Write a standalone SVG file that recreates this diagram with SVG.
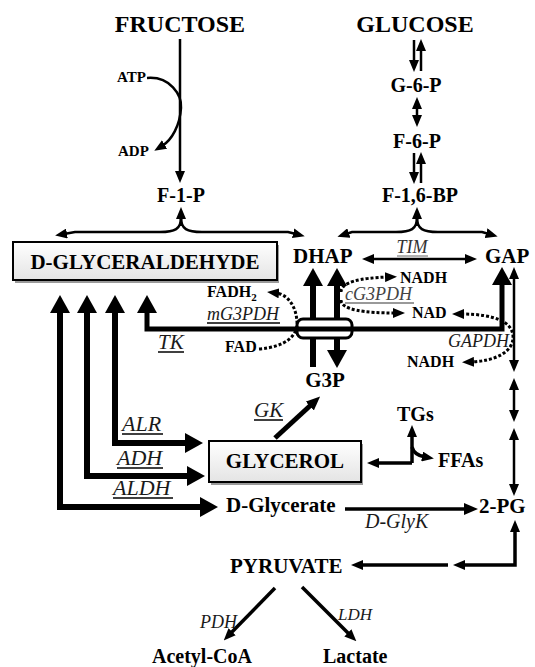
<svg xmlns="http://www.w3.org/2000/svg" width="535" height="667" viewBox="0 0 535 667">
<defs>
<marker id="th" markerUnits="userSpaceOnUse" markerWidth="12" markerHeight="10" refX="3" refY="5" orient="auto-start-reverse"><path d="M0,0 L12,5 L0,10 z" fill="#000"/></marker>
<marker id="md" markerUnits="userSpaceOnUse" markerWidth="14" markerHeight="12" refX="3" refY="6" orient="auto-start-reverse"><path d="M0,0 L14,6 L0,12 z" fill="#000"/></marker>
<marker id="tk" markerUnits="userSpaceOnUse" markerWidth="18" markerHeight="20" refX="3" refY="10" orient="auto-start-reverse"><path d="M0,0 L18,10 L0,20 z" fill="#000"/></marker>
<linearGradient id="bg" x1="0" y1="0" x2="0" y2="1"><stop offset="0" stop-color="#ffffff"/><stop offset="1" stop-color="#e4e4e4"/></linearGradient>
</defs>
<style>
text{font-family:'Liberation Serif','DejaVu Serif',serif}
.b{font-weight:bold;fill:#000}
.i{font-style:italic;fill:#1a1a1a}
.thin{fill:none;stroke:#000;stroke-width:2.5}
.med{fill:none;stroke:#000;stroke-width:3.5}
.thick{fill:none;stroke:#000;stroke-width:6;stroke-linejoin:miter}
.dot{fill:none;stroke:#000;stroke-width:3;stroke-dasharray:3 2}
.ul{stroke:#000;stroke-width:1.5}
.box{fill:url(#bg);stroke:#000;stroke-width:2}
.shadow{fill:#9a9a9a}
</style>
<rect width="535" height="667" fill="#fff"/>

<g id="connectors">
  <path class="thin" d="M180,39 V174" marker-end="url(#th)"/>
  <path class="thin" d="M147,78 C170,76 182,95 181,108 C180,125 172,140 162,146" marker-end="url(#th)"/>
  <path class="thin" d="M414,40 V63" marker-end="url(#th)"/>
  <path class="thin" d="M421,71 V48" marker-end="url(#th)"/>
  <path class="thin" d="M417,106 V118" marker-start="url(#th)" marker-end="url(#th)"/>
  <path class="thin" d="M414,153 V175" marker-end="url(#th)"/>
  <path class="thin" d="M421,183 V161" marker-end="url(#th)"/>
  <path class="thin" d="M181,226 V216" marker-end="url(#th)"/>
  <path class="thin" d="M181,218 C181,229 175,232 160,232 L75,232 L64,234" marker-end="url(#th)"/>
  <path class="thin" d="M181,218 C181,229 187,232 202,232 L288,232 L296,234" marker-end="url(#th)"/>
  <path class="thin" d="M417,226 V216" marker-end="url(#th)"/>
  <path class="thin" d="M417,218 C417,229 411,232 396,232 L352,232 L346,234" marker-end="url(#th)"/>
  <path class="thin" d="M417,218 C417,229 423,232 438,232 L482,232 L489,234" marker-end="url(#th)"/>
  <path class="thin" d="M371,259 H468" marker-start="url(#th)" marker-end="url(#th)"/>
  <path class="thick" d="M313,367 V283" marker-end="url(#tk)"/>
  <path class="thick" d="M337,283 V353" marker-start="url(#tk)" marker-end="url(#tk)"/>
  <rect x="297" y="319" width="55" height="19" rx="6" fill="#fff" stroke="#000" stroke-width="3"/>
  <path class="thick" style="stroke-width:5" d="M147,310 V329 H502 V282" marker-start="url(#tk)" marker-end="url(#tk)"/>
  <path class="thick" d="M115,310 V443 H188" marker-start="url(#tk)" marker-end="url(#tk)"/>
  <path class="thick" d="M87,310 V476 H190" marker-start="url(#tk)" marker-end="url(#tk)"/>
  <path class="thick" d="M60,310 V507 H203" marker-start="url(#tk)" marker-end="url(#tk)"/>
  <path class="dot" d="M259,349 C285,347 298,336 297,322 C296,304 286,294 276,293" marker-end="url(#th)"/>
  <path class="dot" d="M341,292 C341,282 360,278 388,277" marker-end="url(#th)"/>
  <path class="dot" d="M341,300 C341,310 365,313 396,313" marker-end="url(#th)"/>
  <path class="dot" d="M461,314 C495,314 512,322 513,336 C514,352 495,361 471,362" marker-start="url(#th)" marker-end="url(#th)"/>
  <path class="thin" d="M514,276 V363" marker-start="url(#th)" marker-end="url(#th)"/>
  <path class="thin" d="M514,387 V413" marker-start="url(#th)" marker-end="url(#th)"/>
  <path class="thin" d="M514,437 V487" marker-start="url(#th)" marker-end="url(#th)"/>
  <path class="thick" style="stroke-width:5" d="M275,438 L312,404" marker-end="url(#md)"/>
  <path class="med" d="M345,509 H467" marker-end="url(#md)"/>
  <path class="med" d="M412,463 V434" marker-end="url(#th)"/>
  <path class="med" d="M412,463 H376" marker-end="url(#th)"/>
  <path class="med" d="M412,447 Q414,455 425,457" marker-end="url(#th)"/>
  <path class="med" d="M515,529 V565 H462" marker-start="url(#th)" marker-end="url(#th)"/>
  <path class="med" d="M448,565 H360" marker-end="url(#th)"/>
  <path class="med" d="M275,588 L230,634" marker-end="url(#th)"/>
  <path class="med" d="M302,587 L350,635" marker-end="url(#th)"/>
</g>

<g id="fructose"><text class="b" x="180" y="32" font-size="24" text-anchor="middle">FRUCTOSE</text></g>
<g id="glucose"><text class="b" x="415" y="32" font-size="24" text-anchor="middle">GLUCOSE</text></g>
<g id="atp"><text class="b" x="117" y="82" font-size="15">ATP</text></g>
<g id="adp"><text class="b" x="118" y="156" font-size="15">ADP</text></g>
<g id="f1p"><text class="b" x="181" y="202" font-size="20" text-anchor="middle">F-1-P</text></g>
<g id="g6p"><text class="b" x="416" y="92" font-size="20" text-anchor="middle">G-6-P</text></g>
<g id="f6p"><text class="b" x="417" y="148" font-size="20" text-anchor="middle">F-6-P</text></g>
<g id="f16bp"><text class="b" x="420" y="202" font-size="20" text-anchor="middle">F-1,6-BP</text></g>
<g id="dglyceraldehyde">
  <rect class="shadow" x="15" y="245" width="264" height="38"/>
  <rect class="box" x="13" y="242" width="264" height="38"/>
  <text class="b" x="145" y="269" font-size="21" text-anchor="middle">D-GLYCERALDEHYDE</text>
</g>
<g id="dhap"><text class="b" x="293" y="263" font-size="21">DHAP</text></g>
<g id="gap"><text class="b" x="485" y="263" font-size="21">GAP</text></g>
<g id="tim"><text class="i" x="412" y="253" font-size="18" text-anchor="middle" style="fill:#333">TIM</text><line class="ul" x1="397" y1="256" x2="428" y2="256" style="stroke:#666;stroke-width:1"/></g>
<g id="nadh1"><text class="b" x="400" y="283" font-size="16">NADH</text></g>
<g id="cg3pdh"><text class="i" x="345" y="300" font-size="18" style="fill:#444">cG3PDH</text><line class="ul" x1="345" y1="303" x2="414" y2="303" style="stroke:#777"/></g>
<g id="nad1"><text class="b" x="412" y="318" font-size="16">NAD</text></g>
<g id="gapdh"><text class="i" x="448" y="347" font-size="18">GAPDH</text></g>
<g id="nadh2"><text class="b" x="407" y="367" font-size="16">NADH</text></g>
<g id="fadh2"><text class="b" x="207" y="297" font-size="16">FADH<tspan font-size="11" dy="4">2</tspan></text></g>
<g id="mg3pdh"><text class="i" x="207" y="320" font-size="18">mG3PDH</text><line class="ul" x1="207" y1="323" x2="280" y2="323"/></g>
<g id="tk"><text class="i" x="158" y="349" font-size="21">TK</text><line class="ul" x1="158" y1="352" x2="184" y2="352"/></g>
<g id="fad"><text class="b" x="225" y="352" font-size="16">FAD</text></g>
<g id="g3p"><text class="b" x="325" y="387" font-size="21" text-anchor="middle">G3P</text></g>
<g id="gk"><text class="i" x="254" y="417" font-size="21">GK</text><line class="ul" x1="254" y1="420" x2="283" y2="420"/></g>
<g id="tgs"><text class="b" x="397" y="421" font-size="20">TGs</text></g>
<g id="ffas"><text class="b" x="438" y="467" font-size="20">FFAs</text></g>
<g id="alr"><text class="i" x="122" y="431" font-size="22">ALR</text><line class="ul" x1="122" y1="434" x2="163" y2="434"/></g>
<g id="adh"><text class="i" x="117" y="465" font-size="22">ADH</text><line class="ul" x1="117" y1="468" x2="163" y2="468"/></g>
<g id="aldh"><text class="i" x="113" y="495" font-size="22">ALDH</text><line class="ul" x1="113" y1="498" x2="173" y2="498"/></g>
<g id="glycerol">
  <rect class="shadow" x="211" y="444" width="152" height="41"/>
  <rect class="box" x="209" y="441" width="152" height="41"/>
  <text class="b" x="285" y="468" font-size="21" text-anchor="middle">GLYCEROL</text>
</g>
<g id="dglycerate"><text class="b" x="226" y="512" font-size="21">D-Glycerate</text></g>
<g id="dglyk"><text class="i" x="365" y="528" font-size="20">D-GlyK</text></g>
<g id="pg2"><text class="b" x="479" y="513" font-size="21">2-PG</text></g>
<g id="pyruvate"><text class="b" x="230" y="573" font-size="21">PYRUVATE</text></g>
<g id="pdh"><text class="i" x="200" y="628" font-size="18">PDH</text></g>
<g id="ldh"><text class="i" x="338" y="620" font-size="17">LDH</text></g>
<g id="acetylcoa"><text class="b" x="152" y="663" font-size="20">Acetyl-CoA</text></g>
<g id="lactate"><text class="b" x="323" y="663" font-size="20">Lactate</text></g>
</svg>
